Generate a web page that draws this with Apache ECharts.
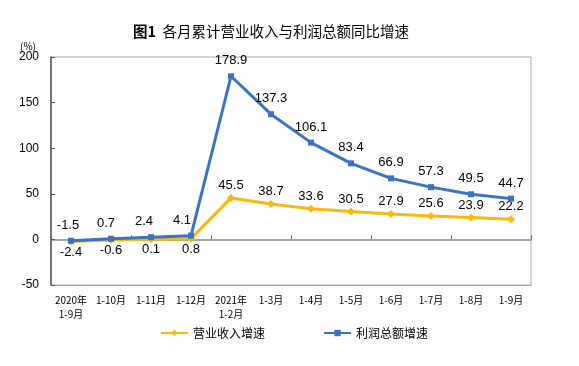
<!DOCTYPE html>
<html><head><meta charset="utf-8">
<script src="https://cdn.jsdelivr.net/npm/echarts@6/dist/echarts.min.js"></script>
<style>html,body{margin:0;padding:0;background:#fff}#c{width:579px;height:366px}</style>
</head><body><div id="c"></div>
<script>
const categories = ['2020年\n1-9月','1-10月','1-11月','1-12月','2021年\n1-2月','1-3月','1-4月','1-5月','1-6月','1-7月','1-8月','1-9月'];
const revenueGrowth = [-2.4, -0.6, 0.1, 0.8, 45.5, 38.7, 33.6, 30.5, 27.9, 25.6, 23.9, 22.2];
const profitGrowth = [-1.5, 0.7, 2.4, 4.1, 178.9, 137.3, 106.1, 83.4, 66.9, 57.3, 49.5, 44.7];
const yTicks = {min: -50, max: 200, interval: 50};
const seriesNames = ['营业收入增速', '利润总额增速'];

const cjk = '"Noto Sans CJK SC", sans-serif';
const num = '"Liberation Sans", Arial, sans-serif';
const chart = echarts.init(document.getElementById('c'), null, {renderer: 'canvas'});
const revColor = '#F5BA0A';
const proColor = '#3A73C1';
chart.setOption({
  animation: false,
  backgroundColor: '#fff',
  title: {
    text: '{b|图1}  各月累计营业收入与利润总额同比增速',
    left: 128, top: 19,
    textStyle: {fontFamily: cjk, fontSize: 14.5, fontWeight: 'normal', color: '#000',
      rich: {b: {fontFamily: cjk, fontSize: 14.5, fontWeight: 'bold', color: '#000'}}}
  },
  legend: {
    top: 322, left: 155, itemGap: 58, itemWidth: 27, itemHeight: 8,
    textStyle: {fontFamily: cjk, fontSize: 12, color: '#000'},
    data: seriesNames
  },
  grid: {left: 51, right: 48, top: 57, bottom: 81, show: true, borderColor: '#aaa', borderWidth: 1},
  xAxis: [{
    type: 'category', data: categories, position: 'bottom',
    axisLine: {onZero: false, show: true, lineStyle: {color: '#aaa'}},
    axisTick: {show: false},
    axisLabel: {fontFamily: cjk, fontSize: 10, color: '#000', margin: 8, lineHeight: 14, interval: 0}
  }, {
    type: 'category', data: categories, position: 'bottom',
    axisLine: {onZero: true, show: true, lineStyle: {color: '#888', width: 1.5}},
    axisTick: {show: true, inside: true, length: 4, lineStyle: {color: '#666'}},
    axisLabel: {show: false}
  }],
  yAxis: {
    type: 'value', min: yTicks.min, max: yTicks.max, interval: yTicks.interval,
    name: '(%)', nameLocation: 'end', nameGap: 6,
    nameTextStyle: {fontFamily: cjk, fontSize: 10, color: '#000', align: 'center', padding: [0, 46, 0, 0]},
    axisLine: {show: true, lineStyle: {color: '#555', width: 1.5}},
    axisTick: {show: true, inside: true, length: 4, lineStyle: {color: '#555'}},
    axisLabel: {fontFamily: num, fontSize: 12, color: '#000', margin: 12},
    splitLine: {show: false}
  },
  series: [{
    name: seriesNames[0], type: 'line', data: revenueGrowth.map((v, i) => ({
      value: v,
      label: {position: i < 4 ? 'bottom' : 'top', distance: i < 4 ? 0 : 2}
    })),
    color: revColor, symbol: 'diamond', symbolSize: 8,
    lineStyle: {width: 3, color: revColor}, itemStyle: {color: revColor},
    label: {show: true, fontFamily: num, fontSize: 13, color: '#000'},
    z: 3
  }, {
    name: seriesNames[1], type: 'line', data: profitGrowth.map((v, i) => ({
      value: v,
      label: {offset: i < 4 ? [-(i * 2 + 3), 0] : [0, 0]}
    })),
    color: proColor, symbol: 'rect', symbolSize: 6,
    lineStyle: {width: 3, color: proColor}, itemStyle: {color: proColor},
    label: {show: true, position: 'top', distance: 6, fontFamily: num, fontSize: 13, color: '#000'},
    z: 4
  }]
});
</script></body></html>
